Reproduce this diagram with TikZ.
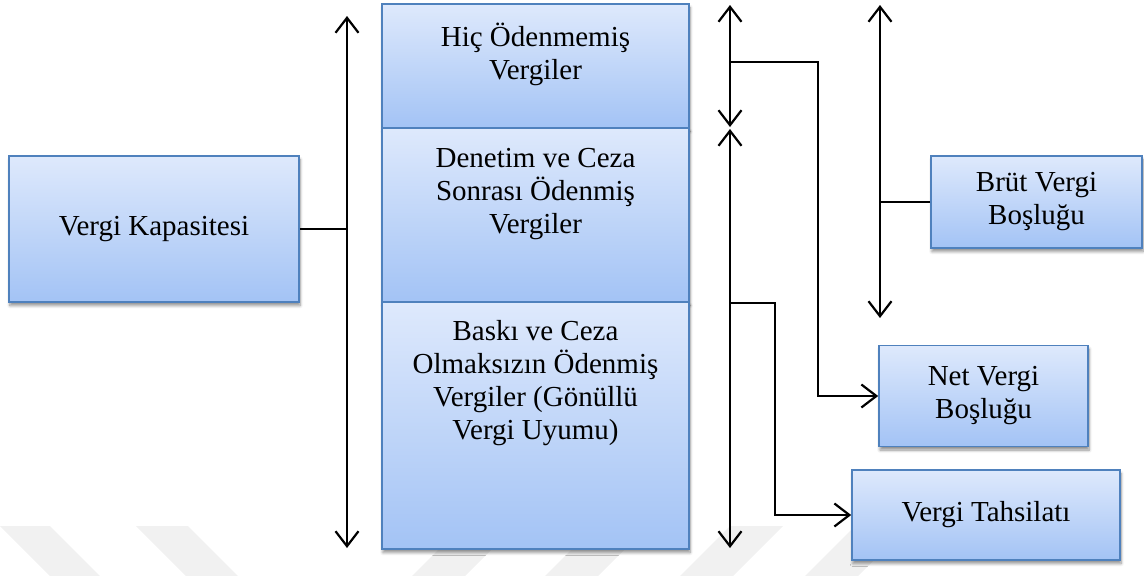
\documentclass[tikz,border=0pt]{standalone}
\usepackage{fontspec}
\setmainfont{Liberation Serif}
\usetikzlibrary{arrows.meta,shadows.blur,calc}
\definecolor{boxtop}{RGB}{222,233,252}
\definecolor{boxbot}{RGB}{163,195,245}
\definecolor{boxline}{RGB}{79,129,189}
\definecolor{wmark}{RGB}{241,241,241}
\begin{document}
\begin{tikzpicture}[x=1pt,y=-1pt,
  box/.style={draw=boxline, line width=1.6pt, top color=boxtop, bottom color=boxbot,
    inner sep=0pt, align=center, font=\fontsize{29}{33}\selectfont,
    blur shadow={shadow xshift=1pt, shadow yshift=-3.5pt, shadow opacity=45,
      shadow blur steps=6, shadow blur radius=3pt}},
  lbl/.style={align=center, font=\fontsize{29}{33}\selectfont, inner sep=0pt},
  conn/.style={line width=2.2pt},
  tip/.style={-{Straight Barb[length=15pt,width=23pt]}},
  both/.style={{Straight Barb[length=15pt,width=23pt]}-{Straight Barb[length=15pt,width=23pt]}},
  band/.style={fill=wmark, draw=none},
]
\useasboundingbox (0,0) rectangle (1144,576);

% faint background bands
\fill[band] (0,526) -- (50,526) -- (100,576) -- (50,576) -- cycle;
\fill[band] (136,526) -- (188,526) -- (238,576) -- (186,576) -- cycle;
\fill[band] (462,526) -- (515,526) -- (465,576) -- (412,576) -- cycle;
\fill[band] (595,526) -- (648,526) -- (598,576) -- (545,576) -- cycle;
\fill[band] (730,526) -- (783,526) -- (733,576) -- (680,576) -- cycle;
\fill[band] (855,526) -- (908,526) -- (858,576) -- (805,576) -- cycle;

% left box
\node[box, minimum width=290pt, minimum height=146pt] (kap) at (154,229) {Vergi Kapasitesi};

% central stack
\node[box, minimum width=307pt, minimum height=124pt] (s1) at (535.5,66) {};
\node[box, minimum width=307pt, minimum height=174pt] (s2) at (535.5,215) {};
\node[box, minimum width=307pt, minimum height=247pt] (s3) at (535.5,425.5) {};
\node[lbl] (s1t) at (535.5,54) {Hiç Ödenmemiş\\Vergiler};
\node[lbl] (s2t) at (535.5,194) {Denetim ve Ceza\\Sonrası Ödenmiş\\Vergiler};
\node[lbl] (s3t) at (535.5,383) {Baskı ve Ceza\\Olmaksızın Ödenmiş\\Vergiler (Gönüllü\\Vergi Uyumu)};

% right boxes
\node[box, minimum width=211pt, minimum height=92pt] (brut) at (1036.5,202) {Brüt Vergi\\Boşluğu};
\node[box, minimum width=209pt, minimum height=101pt] (net) at (983.5,396) {Net Vergi\\Boşluğu};
\node[box, minimum width=268pt, minimum height=90pt] (tah) at (986,515) {Vergi Tahsilatı};

% arrow end points and junctions
\coordinate (la1) at (347,16);
\coordinate (la2) at (347,548);
\coordinate (ra1) at (730,5);
\coordinate (ra2) at (730,127);
\coordinate (ra3) at (730,129);
\coordinate (ra4) at (730,548);
\coordinate (ba1) at (880,5);
\coordinate (ba2) at (880,318);
\coordinate (j1) at (730,62);
\coordinate (k1) at (818,62);
\coordinate (j2) at (730,303);
\coordinate (k2) at (775,303);

% span arrows
\draw[conn,both] (la1) -- (la2);
\draw[conn,both] (ra1) -- (ra2);
\draw[conn,both] (ra3) -- (ra4);
\draw[conn,both] (ba1) -- (ba2);

% connectors
\draw[conn] (kap.east) -- (kap.east -| la1);
\draw[conn] (brut.west) -- (brut.west -| ba1);
\draw[conn,tip] (j1) -- (k1) |- (net.west);
\draw[conn,tip] (j2) -- (k2) |- (tah.west);
\end{tikzpicture}
\end{document}
